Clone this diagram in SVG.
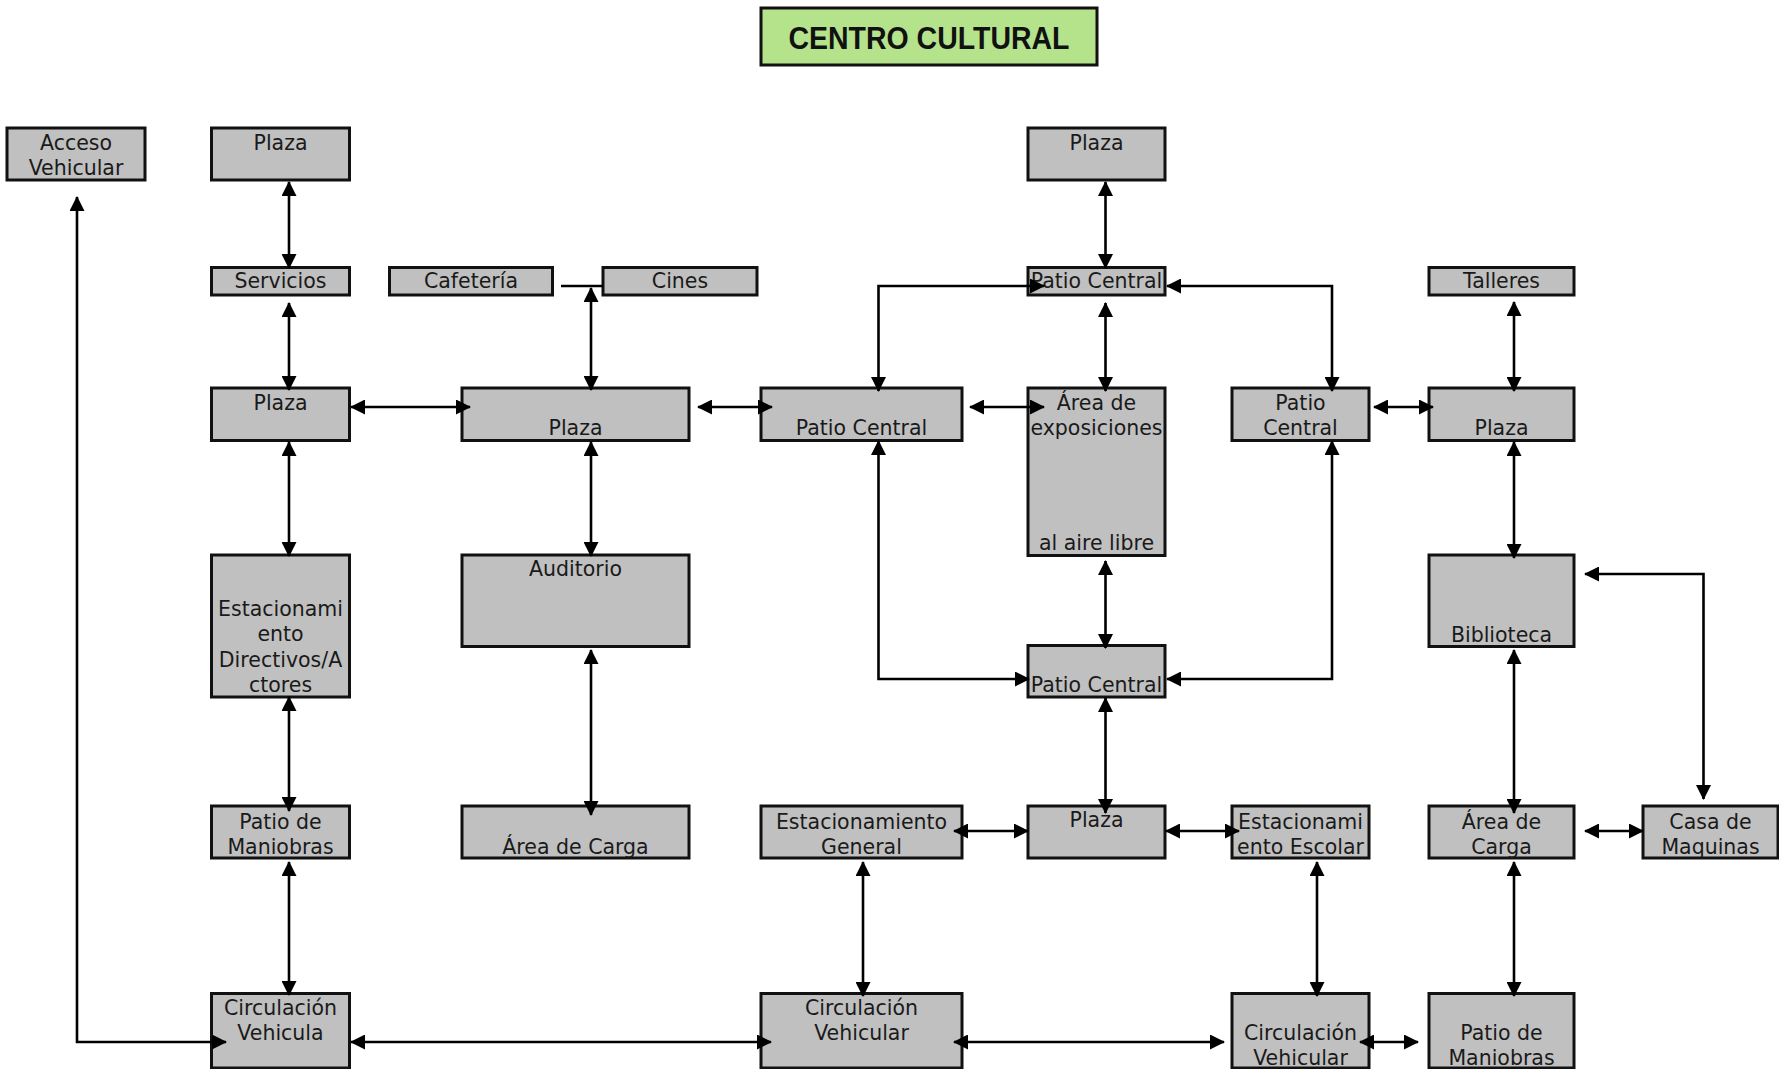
<svg xmlns="http://www.w3.org/2000/svg" width="1779" height="1069" viewBox="0 0 1779 1069">
<style>
.box{fill:#c0c0c0;stroke:#111;stroke-width:3}
.t{font-family:"DejaVu Sans",sans-serif;font-size:20.5px;fill:#1a1a1a;text-anchor:middle}
.c{fill:none;stroke:#000;stroke-width:2.6;marker-start:url(#ah);marker-end:url(#ah)}
.plain{fill:none;stroke:#000;stroke-width:2.6}
</style>
<defs>
<marker id="ah" viewBox="0 0 15 15" markerWidth="15" markerHeight="15" markerUnits="userSpaceOnUse" refX="14" refY="7.5" orient="auto-start-reverse">
<path d="M0,0 L15,7.5 L0,15 z" fill="#000"/>
</marker>
</defs>
<rect width="1779" height="1069" fill="#fff"/>

<g id="title">
<rect x="761" y="8" width="336" height="57" fill="#b4e38c" stroke="#111" stroke-width="3"/>
<text x="929" y="49" font-family="Liberation Sans, sans-serif" font-weight="bold" font-size="31" text-anchor="middle" textLength="281" lengthAdjust="spacingAndGlyphs" fill="#111">CENTRO CULTURAL</text>
</g>

<g id="acceso-vehicular"><rect class="box" x="7" y="128" width="138" height="52"/><text class="t" x="76" y="150">Acceso</text><text class="t" x="76" y="175">Vehicular</text></g>
<g id="plaza-1"><rect class="box" x="211.5" y="128" width="138" height="52"/><text class="t" x="280.5" y="150">Plaza</text></g>
<g id="plaza-top-right"><rect class="box" x="1028" y="128" width="137" height="52"/><text class="t" x="1096.5" y="150">Plaza</text></g>

<g id="servicios"><rect class="box" x="211.5" y="267.5" width="138" height="27.5"/><text class="t" x="280.5" y="288">Servicios</text></g>
<g id="cafeteria"><rect class="box" x="389.5" y="267.5" width="163" height="27.5"/><text class="t" x="471" y="288">Cafetería</text></g>
<g id="cines"><rect class="box" x="603" y="267.5" width="154" height="27.5"/><text class="t" x="680" y="288">Cines</text></g>
<g id="patio-central-top"><rect class="box" x="1028" y="267.5" width="137" height="27.5"/><text class="t" x="1096.5" y="288">Patio Central</text></g>
<g id="talleres"><rect class="box" x="1429" y="267.5" width="145" height="27.5"/><text class="t" x="1501.5" y="288">Talleres</text></g>

<g id="plaza-2"><rect class="box" x="211.5" y="388" width="138" height="52.5"/><text class="t" x="280.5" y="410">Plaza</text></g>
<g id="plaza-3"><rect class="box" x="462" y="388" width="227" height="52.5"/><text class="t" x="575.5" y="435">Plaza</text></g>
<g id="patio-central-left"><rect class="box" x="761" y="388" width="201" height="52.5"/><text class="t" x="861.5" y="435">Patio Central</text></g>
<g id="area-exposiciones"><rect class="box" x="1028" y="388" width="137" height="167.5"/><text class="t" x="1096.5" y="410">Área de</text><text class="t" x="1096.5" y="435">exposiciones</text><text class="t" x="1096.5" y="550">al aire libre</text></g>
<g id="patio-central-right"><rect class="box" x="1232" y="388" width="137" height="52.5"/><text class="t" x="1300.5" y="410">Patio</text><text class="t" x="1300.5" y="435">Central</text></g>
<g id="plaza-right"><rect class="box" x="1429" y="388" width="145" height="52.5"/><text class="t" x="1501.5" y="435">Plaza</text></g>

<g id="estacionamiento-directivos"><rect class="box" x="211.5" y="555" width="138" height="142"/><text class="t" x="280.5" y="615.5">Estacionami</text><text class="t" x="280.5" y="641">ento</text><text class="t" x="280.5" y="666.5">Directivos/A</text><text class="t" x="280.5" y="692">ctores</text></g>
<g id="auditorio"><rect class="box" x="462" y="555" width="227" height="91.5"/><text class="t" x="575.5" y="576">Auditorio</text></g>
<g id="biblioteca"><rect class="box" x="1429" y="555" width="145" height="91.5"/><text class="t" x="1501.5" y="641.5">Biblioteca</text></g>
<g id="patio-central-bottom"><rect class="box" x="1028" y="645.5" width="137" height="51.5"/><text class="t" x="1096.5" y="691.5">Patio Central</text></g>

<g id="patio-maniobras-left"><rect class="box" x="211.5" y="806" width="138" height="52"/><text class="t" x="280.5" y="828.5">Patio de</text><text class="t" x="280.5" y="853.5">Maniobras</text></g>
<g id="area-carga-mid"><rect class="box" x="462" y="806" width="227" height="52"/><text class="t" x="575.5" y="853.5">Área de Carga</text></g>
<g id="estacionamiento-general"><rect class="box" x="761" y="806" width="201" height="52"/><text class="t" x="861.5" y="828.5">Estacionamiento</text><text class="t" x="861.5" y="853.5">General</text></g>
<g id="plaza-bottom"><rect class="box" x="1028" y="806" width="137" height="52"/><text class="t" x="1096.5" y="827">Plaza</text></g>
<g id="estacionamiento-escolar"><rect class="box" x="1232" y="806" width="137" height="52"/><text class="t" x="1300.5" y="828.5">Estacionami</text><text class="t" x="1300.5" y="853.5">ento Escolar</text></g>
<g id="area-carga-right"><rect class="box" x="1429" y="806" width="145" height="52"/><text class="t" x="1501.5" y="828.5">Área de</text><text class="t" x="1501.5" y="853.5">Carga</text></g>
<g id="casa-maquinas"><rect class="box" x="1643" y="806" width="135" height="52"/><text class="t" x="1710.5" y="828.5">Casa de</text><text class="t" x="1710.5" y="853.5">Maquinas</text></g>

<g id="circulacion-left"><rect class="box" x="211.5" y="993.5" width="138" height="74.5"/><text class="t" x="280.5" y="1015">Circulación</text><text class="t" x="280.5" y="1040">Vehicula</text></g>
<g id="circulacion-mid"><rect class="box" x="761" y="993.5" width="201" height="74.5"/><text class="t" x="861.5" y="1015">Circulación</text><text class="t" x="861.5" y="1040">Vehicular</text></g>
<g id="circulacion-right"><rect class="box" x="1232" y="993.5" width="137" height="74.5"/><text class="t" x="1300.5" y="1040">Circulación</text><text class="t" x="1300.5" y="1065">Vehicular</text></g>
<g id="patio-maniobras-right"><rect class="box" x="1429" y="993.5" width="145" height="74.5"/><text class="t" x="1501.5" y="1040">Patio de</text><text class="t" x="1501.5" y="1065">Maniobras</text></g>

<g id="connectors">
<path class="c" d="M289,182 V268"/>
<path class="c" d="M289,303 V390"/>
<path class="c" d="M289,442 V556"/>
<path class="c" d="M289,697 V811"/>
<path class="c" d="M289,862 V995"/>
<path class="c" d="M77,197 V1042 H226"/>
<path class="c" d="M351,1042 H771"/>
<path class="c" d="M954,1042 H1224"/>
<path class="c" d="M1360,1042 H1418"/>
<path class="c" d="M351,407 H470"/>
<path class="c" d="M698,407 H772"/>
<path class="c" d="M970,407 H1044"/>
<path class="c" d="M1374,407 H1433"/>
<path class="plain" d="M561,286 H603"/>
<path class="c" d="M591,288 V390"/>
<path class="c" d="M591,442 V556"/>
<path class="c" d="M591,650 V815"/>
<path class="c" d="M1105.5,182 V268"/>
<path class="c" d="M1105.5,303 V391"/>
<path class="c" d="M1105.5,561 V648"/>
<path class="c" d="M1105.5,698 V813"/>
<path class="c" d="M878.5,391 V286 H1044"/>
<path class="c" d="M878.5,441 V679 H1029"/>
<path class="c" d="M1167,286 H1332 V391"/>
<path class="c" d="M1332,441 V679 H1167"/>
<path class="c" d="M1514,302 V391"/>
<path class="c" d="M1514,442 V558"/>
<path class="c" d="M1514,650 V813"/>
<path class="c" d="M1585,574 H1703.5 V799"/>
<path class="c" d="M1585,831 H1643"/>
<path class="c" d="M1514,862 V996"/>
<path class="c" d="M954,831 H1028"/>
<path class="c" d="M1166,831 H1239"/>
<path class="c" d="M863,862 V996"/>
<path class="c" d="M1317,862 V996"/>
</g>
</svg>
